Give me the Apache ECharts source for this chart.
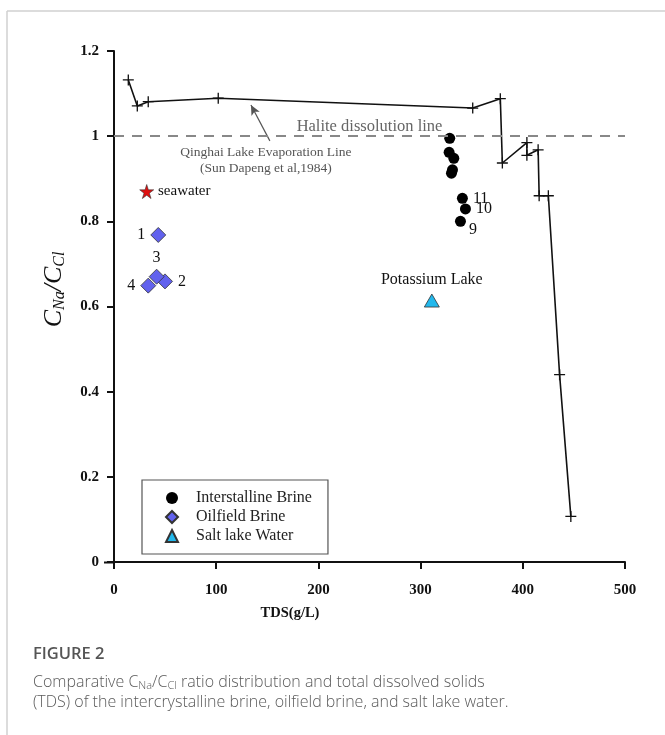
<!DOCTYPE html>
<html><head><meta charset="utf-8">
<script src="https://cdn.jsdelivr.net/npm/echarts@6/dist/echarts.min.js"></script>
<style>html,body{margin:0;padding:0;background:#fff}#c{width:665px;height:735px}</style>
</head><body><div id="c"></div>
<script>
// ---- data ----
const evapTDS   = [14, 22.8, 33.5, 102, 351, 378, 380, 404, 404, 415, 416, 425, 436, 447];
const evapRatio = [1.132, 1.071, 1.081, 1.089, 1.066, 1.088, 0.937, 0.985, 0.955, 0.968, 0.86, 0.86, 0.44, 0.107];
const brineTDS    = [328.5, 327.9, 332.5, 331.2, 330.2, 340.9, 343.9, 339.0];
const brineRatio  = [0.995, 0.962, 0.948, 0.921, 0.913, 0.854, 0.829, 0.800];
const brineLabels = ['', '', '', '', '', '11', '10', '9'];
const oilTDS    = [43.3, 49.9, 41.7, 33.5];
const oilRatio  = [0.768, 0.659, 0.670, 0.649];
const oilLabels = ['1', '2', '3', '4'];
const seaTDS = [32], seaRatio = [0.870];
const lakeTDS = [311], lakeRatio = [0.614], lakeLabels = ['Potassium Lake'];
const xTicks = [0, 100, 200, 300, 400, 500];
const yTicks = [0, 0.2, 0.4, 0.6, 0.8, 1, 1.2];
const halite = 1;

const serif = '"Liberation Serif", "Times New Roman", serif';
const brineLabelPos = {'11': 'right', '10': 'right', '9': 'bottomRight'};
const oilLabelPos = {'1': 'left', '2': 'right', '3': 'top', '4': 'left'};
const posMap = {
  right: {position: 'right', distance: 5},
  left: {position: 'left', distance: 5},
  top: {position: 'top', distance: 3},
  bottomRight: {position: 'right', offset: [0, 8], distance: 3}
};

const chart = echarts.init(document.getElementById('c'));
chart.setOption({
  animation: false,
  backgroundColor: '#fff',
  grid: {left: 114, right: 40, top: 51, bottom: 173},
  xAxis: {
    type: 'value', min: xTicks[0], max: xTicks[xTicks.length - 1], interval: 100,
    name: 'TDS(g/L)', nameLocation: 'middle', nameGap: 44,
    nameTextStyle: {fontFamily: serif, fontWeight: 'bold', fontSize: 14.5, color: '#111', padding: [0, 159, 0, 0]},
    axisLine: {lineStyle: {color: '#111', width: 2}},
    axisTick: {show: true, length: 7, lineStyle: {color: '#111', width: 2}},
    axisLabel: {fontFamily: serif, fontWeight: 'bold', fontSize: 15, color: '#111', margin: 21},
    splitLine: {show: false}
  },
  yAxis: {
    type: 'value', min: yTicks[0], max: yTicks[yTicks.length - 1], interval: 0.2,
    name: 'C{s|Na}/C{s|Cl}', nameLocation: 'middle', nameGap: 46, nameRotate: 90,
    nameTextStyle: {
      fontFamily: serif, fontStyle: 'italic', fontSize: 26, color: '#111', padding: [0, 0, 0, 34],
      rich: {s: {fontFamily: serif, fontStyle: 'italic', fontSize: 16, color: '#111', padding: [11, 0, 0, 0]}}
    },
    axisLine: {show: true, lineStyle: {color: '#111', width: 2}},
    axisTick: {show: true, length: 7, lineStyle: {color: '#111', width: 2}},
    axisLabel: {fontFamily: serif, fontWeight: 'bold', fontSize: 15, color: '#111', margin: 15,
      formatter: v => (v === 0 || v === 1) ? String(v) : v.toFixed(1)},
    splitLine: {show: false}
  },
  legend: {
    orient: 'vertical', left: 142, top: 480,
    data: ['Interstalline Brine', 'Oilfield Brine', 'Salt lake Water'],
    borderColor: '#555', borderWidth: 1.2, padding: [10, 16, 10, 23],
    itemWidth: 12, itemHeight: 12, itemGap: 3,
    textStyle: {fontFamily: serif, fontSize: 16, color: '#222', lineHeight: 14, padding: [0, 0, 0, 13]}
  },
  series: [
    {
      name: 'Evaporation', type: 'line', silent: true,
      data: evapTDS.map((x, i) => [x, evapRatio[i]]),
      symbol: 'path://M4.4,0h1.2v4.4h4.4v1.2h-4.4v4.4h-1.2v-4.4h-4.4v-1.2h4.4z', symbolSize: 11,
      itemStyle: {color: '#111'}, lineStyle: {color: '#111', width: 1.6},
      markLine: {
        silent: true, symbol: ['none', 'arrow'], symbolSize: [7, 10],
        lineStyle: {color: '#555', width: 1.2, type: 'solid'}, label: {show: false},
        data: [[{coord: [152.5, 0.989]}, {coord: [134, 1.073]}]]
      },
      markPoint: {
        silent: true, symbol: 'circle', symbolSize: 0,
        data: [{coord: [148.6, 0.942], value: 0}],
        label: {show: true, position: 'inside', formatter: 'Qinghai Lake Evaporation Line\n(Sun Dapeng et al,1984)',
          fontFamily: serif, fontSize: 13.5, lineHeight: 16, color: '#555', align: 'center'}
      }
    },
    {
      name: 'Halite', type: 'line', data: [], silent: true,
      markLine: {
        silent: true, symbol: 'none',
        lineStyle: {color: '#888', width: 2, type: [10, 8]},
        label: {show: true, position: 'insideMiddleTop', formatter: 'Halite dissolution line',
          fontFamily: serif, fontSize: 16.5, color: '#666', distance: 1},
        data: [{yAxis: halite}]
      }
    },
    {
      name: 'Interstalline Brine', type: 'scatter', symbol: 'circle', symbolSize: 11,
      itemStyle: {color: '#000', opacity: 1},
      data: brineTDS.map((x, i) => ({
        value: [x, brineRatio[i]],
        label: brineLabels[i] ? Object.assign({show: true, formatter: brineLabels[i]}, posMap[brineLabelPos[brineLabels[i]]]) : {show: false}
      })),
      label: {fontFamily: serif, fontSize: 16, color: '#111'}
    },
    {
      name: 'Oilfield Brine', type: 'scatter', symbol: 'diamond', symbolSize: [15, 15],
      itemStyle: {color: '#6262ee', borderColor: '#333', borderWidth: 0.8, opacity: 1},
      data: oilTDS.map((x, i) => ({
        value: [x, oilRatio[i]],
        label: Object.assign({show: true, formatter: oilLabels[i]}, posMap[oilLabelPos[oilLabels[i]]])
      })),
      label: {fontFamily: serif, fontSize: 16, color: '#111'}
    },
    {
      name: 'Seawater', type: 'scatter', symbol: 'path://M50,0L61.8,36.2L100,36.2L69.1,58.8L80.9,95.1L50,72.7L19.1,95.1L30.9,58.8L0,36.2L38.2,36.2Z', symbolSize: 14,
      itemStyle: {color: '#e01010', borderColor: '#333', borderWidth: 0.6, opacity: 1},
      data: seaTDS.map((x, i) => [x, seaRatio[i]]),
      label: {show: true, position: 'right', distance: 4, formatter: 'seawater', fontFamily: serif, fontSize: 15, color: '#111'}
    },
    {
      name: 'Salt lake Water', type: 'scatter', symbol: 'triangle', symbolSize: [15, 13],
      itemStyle: {color: '#22b8ec', borderColor: '#333', borderWidth: 0.8, opacity: 1},
      data: lakeTDS.map((x, i) => [x, lakeRatio[i]]),
      label: {show: true, position: 'top', distance: 6, formatter: () => lakeLabels[0], fontFamily: serif, fontSize: 16, color: '#111'}
    }
  ],
  graphic: [
    {type: 'line', shape: {x1: 7, y1: 11, x2: 665, y2: 11}, style: {stroke: '#d0d0d0', lineWidth: 1.5}, silent: true},
    {type: 'line', shape: {x1: 7, y1: 11, x2: 7, y2: 735}, style: {stroke: '#d0d0d0', lineWidth: 1.5}, silent: true},
    {type: 'line', shape: {x1: 104, y1: 562.5, x2: 114, y2: 562.5}, style: {stroke: '#111', lineWidth: 2}, silent: true},
    {type: 'text', left: 33, top: 646, style: {text: 'FIGURE 2', font: '600 16.5px "Open Sans", "Noto Sans", sans-serif', fill: '#555'}},
    {type: 'text', left: 33, top: 672, style: {
      text: 'Comparative C{s|Na}/C{s|Cl} ratio distribution and total dissolved solids\n(TDS) of the intercrystalline brine, oilfield brine, and salt lake water.',
      font: '300 16px "Open Sans", "Noto Sans", sans-serif', fill: '#5a5a5a', lineHeight: 20,
      rich: {s: {font: '300 11px "Open Sans", "Noto Sans", sans-serif', fill: '#5a5a5a', padding: [7, 0, 0, 0]}}
    }}
  ]
});
</script></body></html>
